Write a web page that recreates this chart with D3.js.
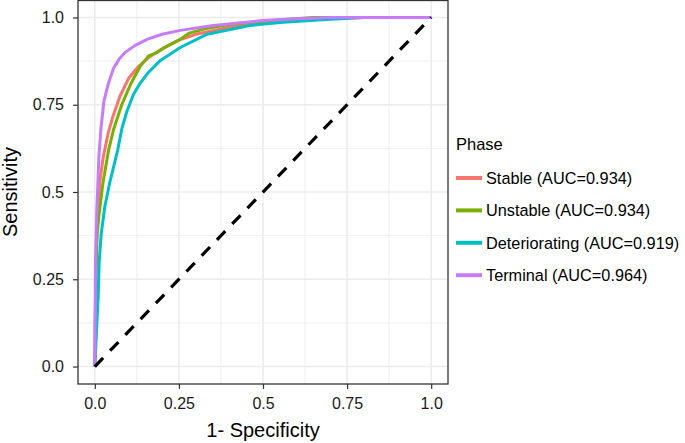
<!DOCTYPE html>
<html>
<head>
<meta charset="utf-8">
<script src="https://cdn.jsdelivr.net/npm/d3@7"></script>
<style>
  body { margin: 0; background: #fff; }
  text { font-family: "Liberation Sans", Arial, Helvetica, sans-serif; }
</style>
</head>
<body>
<div id="roc-chart"></div>
<script>
// ROC curves by phase

const phaseNames = ["Stable", "Unstable", "Deteriorating", "Terminal"];
const phaseAuc = ["0.934", "0.934", "0.919", "0.964"];
const phaseColors = ["#F8766D", "#7CAE00", "#00BFC4", "#C77CFF"];

const tickValues = [0, 0.25, 0.5, 0.75, 1];
const tickLabels = ["0.0", "0.25", "0.5", "0.75", "1.0"];
const minorValues = [0.125, 0.375, 0.625, 0.875];

// [1 - specificity, sensitivity]
const stableRoc = [[0,0],[0.002,0.2],[0.005,0.35],[0.009,0.45],[0.015,0.53],[0.025,0.6],[0.04,0.67],
  [0.055,0.72],[0.075,0.775],[0.1,0.825],[0.13,0.86],[0.16,0.885],[0.2,0.91],[0.25,0.935],
  [0.3,0.952],[0.4,0.972],[0.5,0.985],[0.65,0.995],[0.8,1],[1,1]];
const unstableRoc = [[0,0],[0.003,0.25],[0.007,0.38],[0.012,0.43],[0.024,0.525],[0.041,0.62],
  [0.056,0.68],[0.08,0.75],[0.107,0.81],[0.135,0.86],[0.16,0.89],[0.185,0.9],[0.215,0.918],
  [0.25,0.935],[0.28,0.955],[0.33,0.968],[0.4,0.98],[0.5,0.99],[0.65,1],[1,1]];
const deterioratingRoc = [[0,0],[0.005,0.1],[0.01,0.2],[0.013,0.3],[0.019,0.38],[0.03,0.46],
  [0.045,0.53],[0.068,0.62],[0.08,0.68],[0.095,0.73],[0.115,0.78],[0.135,0.812],[0.157,0.84],
  [0.195,0.877],[0.254,0.914],[0.334,0.952],[0.46,0.977],[0.56,0.986],[0.7,0.995],[0.8,1],[1,1]];
const terminalRoc = [[0,0],[0.002,0.3],[0.006,0.45],[0.009,0.52],[0.012,0.6],[0.018,0.68],
  [0.027,0.76],[0.04,0.81],[0.056,0.855],[0.072,0.88],[0.09,0.9],[0.12,0.92],[0.157,0.938],
  [0.2,0.952],[0.254,0.963],[0.352,0.977],[0.5,0.991],[0.6,0.996],[0.7,1],[1,1]];

const chanceLine = [[0,0],[1,1]];

function createRocChart() {
    const width = 685, height = 443;
    const panel = {left: 78, right: 448, top: 0, bottom: 384};

    const svg = d3.select("#roc-chart")
        .append("svg")
        .attr("width", width)
        .attr("height", height);

    const x = d3.scaleLinear().domain([-0.05, 1.05]).range([panel.left, panel.right]);
    const y = d3.scaleLinear().domain([-0.05, 1.05]).range([panel.bottom, panel.top]);

    // panel background
    svg.append("rect")
        .attr("x", panel.left).attr("y", panel.top)
        .attr("width", panel.right - panel.left)
        .attr("height", panel.bottom - panel.top)
        .attr("fill", "#fff");

    // minor grid
    const grid = svg.append("g");
    minorValues.forEach(v => {
        grid.append("line").attr("x1", x(v)).attr("x2", x(v))
            .attr("y1", panel.top).attr("y2", panel.bottom)
            .attr("stroke", "#ebebeb").attr("stroke-width", 0.8);
        grid.append("line").attr("y1", y(v)).attr("y2", y(v))
            .attr("x1", panel.left).attr("x2", panel.right)
            .attr("stroke", "#ebebeb").attr("stroke-width", 0.8);
    });
    // major grid
    tickValues.forEach(v => {
        grid.append("line").attr("x1", x(v)).attr("x2", x(v))
            .attr("y1", panel.top).attr("y2", panel.bottom)
            .attr("stroke", "#ebebeb").attr("stroke-width", 1.5);
        grid.append("line").attr("y1", y(v)).attr("y2", y(v))
            .attr("x1", panel.left).attr("x2", panel.right)
            .attr("stroke", "#ebebeb").attr("stroke-width", 1.5);
    });

    // ROC curves
    const line = d3.line().x(d => x(d[0])).y(d => y(d[1]));
    const series = [stableRoc, unstableRoc, deterioratingRoc, terminalRoc];
    series.forEach((s, i) => {
        svg.append("path")
            .attr("d", line(s))
            .attr("fill", "none")
            .attr("stroke", phaseColors[i])
            .attr("stroke-width", 3)
            .attr("stroke-linejoin", "round");
    });

    // chance diagonal
    svg.append("path")
        .attr("d", line(chanceLine))
        .attr("fill", "none")
        .attr("stroke", "#000")
        .attr("stroke-width", 3.2)
        .attr("stroke-dasharray", "12,10");

    // panel border
    svg.append("rect")
        .attr("x", panel.left).attr("y", panel.top + 0.5)
        .attr("width", panel.right - panel.left)
        .attr("height", panel.bottom - panel.top - 0.5)
        .attr("fill", "none")
        .attr("stroke", "#333")
        .attr("stroke-width", 1.3);

    // axes
    const xAxis = svg.append("g")
        .attr("transform", `translate(0,${panel.bottom})`)
        .call(d3.axisBottom(x).tickValues(tickValues)
            .tickFormat((d, i) => tickLabels[i]).tickSize(5).tickPadding(9));
    const yAxis = svg.append("g")
        .attr("transform", `translate(${panel.left},0)`)
        .call(d3.axisLeft(y).tickValues(tickValues)
            .tickFormat((d, i) => tickLabels[i]).tickSize(5).tickPadding(9));
    [xAxis, yAxis].forEach(a => {
        a.select(".domain").remove();
        a.selectAll(".tick line").attr("stroke", "#333").attr("stroke-width", 1.2);
        a.selectAll(".tick text")
            .attr("fill", "#1a1a1a")
            .style("font-size", "16px")
            .style("font-family", "'Liberation Sans', Arial, sans-serif");
    });

    // axis titles
    svg.append("text")
        .attr("x", (panel.left + panel.right) / 2)
        .attr("y", 437)
        .attr("text-anchor", "middle")
        .style("font-size", "20px")
        .text("1- Specificity");

    svg.append("text")
        .attr("transform", `translate(17,${(panel.top + panel.bottom) / 2}) rotate(-90)`)
        .attr("text-anchor", "middle")
        .style("font-size", "20px")
        .text("Sensitivity");

    // legend
    const legend = svg.append("g").attr("transform", "translate(456,0)");
    legend.append("text")
        .attr("x", 0).attr("y", 150)
        .style("font-size", "16.5px")
        .text("Phase");

    phaseNames.forEach((name, i) => {
        const cy = 178 + i * 32.4;
        legend.append("line")
            .attr("x1", 0).attr("x2", 26)
            .attr("y1", cy).attr("y2", cy)
            .attr("stroke", phaseColors[i])
            .attr("stroke-width", 4);
        legend.append("text")
            .attr("x", 30).attr("y", cy + 6)
            .style("font-size", "16.3px")
            .text(`${name} (AUC=${phaseAuc[i]})`);
    });
}

createRocChart();
</script>
</body>
</html>
